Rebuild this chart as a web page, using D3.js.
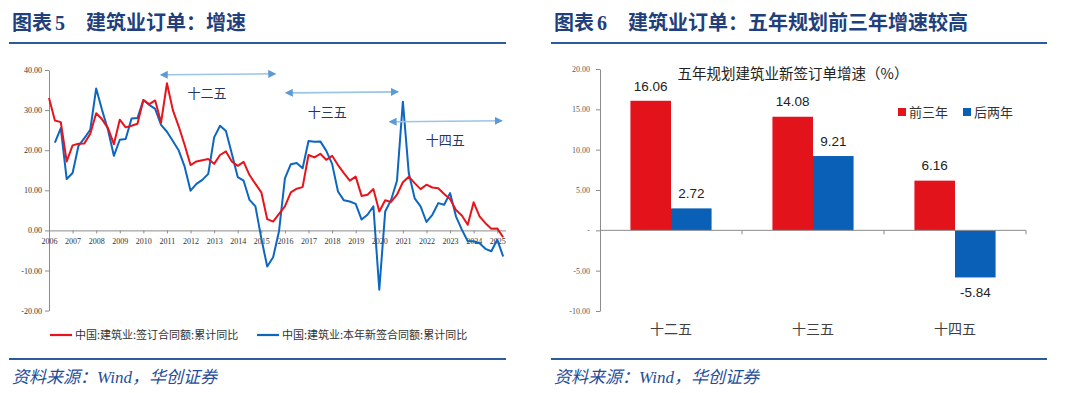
<!DOCTYPE html>
<html>
<head>
<meta charset="utf-8">
<script src="https://cdn.jsdelivr.net/npm/d3@7"></script>
<style>
  body { margin: 0; background: #fff; }
  svg { display: block; }
</style>
</head>
<body>
<svg id="chart" width="1080" height="393"></svg>
<script>
// ---- left chart data: quarterly cumulative yoy (%) from 2006Q1 to 2025Q2
const startYear = 2006;
const yearTicks = d3.range(2006, 2026);
const signedYoy = [
  33.0, 27.4, 27.0, 17.2,
  21.2, 21.6, 21.7, 24.1,
  29.2, 27.7, 25.5, 21.5,
  27.6, 25.7, 26.1, 26.6,
  32.5, 31.5, 32.4, 26.9,
  36.7, 30.0, 25.9, 21.3,
  16.3, 17.2, 17.5, 17.8,
  16.6, 18.8, 19.7, 17.2,
  16.1, 17.1, 13.8, 11.6,
  9.5, 2.8, 2.2, 4.1,
  6.0, 9.5, 10.4, 10.8,
  18.8, 18.2, 19.1, 17.6,
  18.6, 16.3, 14.3, 12.4,
  13.4, 8.6, 8.9, 10.3,
  4.7, 7.5, 7.1, 8.9,
  12.0, 13.4, 11.8, 10.3,
  11.4, 10.7, 10.5, 9.1,
  7.8, 5.1, 3.7, 1.4,
  7.0, 3.5, 1.8, 0.4,
  0.5, -1.7
];
const newSignedYoy = [
  null, 21.9, 25.5, 12.8,
  14.3, 21.1, 23.0, 25.1,
  35.4, 30.0, 25.1, 18.6,
  22.6, 22.8, 27.9, 28.0,
  32.5, 31.3, 30.3, 26.3,
  24.6, 22.3, 19.9, 15.9,
  9.9, 11.6, 12.6, 14.1,
  23.2, 26.1, 24.8, 19.1,
  13.3, 12.4, 7.6, 6.0,
  -2.0, -9.0, -6.7, -0.2,
  13.0, 16.5, 16.8, 15.5,
  22.3, 22.1, 22.2, 19.9,
  16.6, 9.7, 7.5, 7.2,
  6.6, 2.7, 3.9, 6.0,
  -14.8, 4.7, 7.6, 12.4,
  32.1, 14.3, 8.0, 6.0,
  2.1, 3.9, 6.8, 6.4,
  9.3, 3.5, 0.2, -2.7,
  -2.7, -3.2, -4.6, -5.2,
  -2.3, -6.5
];
const leftYTicks = [-20, -10, 0, 10, 20, 30, 40];
const seriesNames = ["中国:建筑业:签订合同额:累计同比", "中国:建筑业:本年新签合同额:累计同比"];
// five-year plan periods (arrow from/to in years, arrow level and label spot in %)
const plans = [
  { name: "十二五", from: 2011.0, to: 2015.6, level: 38.8, labelYear: 2012.7, labelValue: 34.2 },
  { name: "十三五", from: 2016.3, to: 2020.8, level: 34.3, labelYear: 2017.8, labelValue: 29.5 },
  { name: "十四五", from: 2020.7, to: 2025.2, level: 27.1, labelYear: 2022.8, labelValue: 22.5 }
];

// ---- right chart data
const planCats = ["十二五", "十三五", "十四五"];
const firstThree = [16.06, 14.08, 6.16];
const lastTwo = [2.72, 9.21, -5.84];
const barSeries = ["前三年", "后两年"];
const rightYTicks = [-10, -5, 0, 5, 10, 15, 20];

const RED = "#e8141c", BLUE = "#0d66bf";
const BAR_RED = "#e3131c", BAR_BLUE = "#0a5fb6";
const NAVY = "#213f7c";
const CJK = "'Noto Sans CJK SC', sans-serif";
const SERIF = "'Liberation Serif', 'Noto Sans CJK SC', serif";

// fixed 2 decimals with a plain hyphen for negatives
const fmt2 = v => d3.format(".2f")(v).replace("\u2212", "-");

const svg = d3.select("#chart");

// ---------- frame: titles, rules, sources ----------
function frame(x0, x1, num, title) {
    const t = svg.append("text")
        .attr("x", x0 + 3).attr("y", 30)
        .attr("fill", NAVY)
        .style("font-family", SERIF)
        .style("font-weight", "bold")
        .style("font-size", "20px");
    t.append("tspan").text("图表");
    t.append("tspan").attr("dx", 3).text(num);
    t.append("tspan").attr("x", x0 + 77).text(title);

    svg.append("line").attr("x1", x0).attr("x2", x1).attr("y1", 43).attr("y2", 43)
        .attr("stroke", "#2d5a9a").attr("stroke-width", 2);
    svg.append("line").attr("x1", x0).attr("x2", x1).attr("y1", 359).attr("y2", 359)
        .attr("stroke", "#2d5a9a").attr("stroke-width", 2);

    svg.append("text")
        .attr("x", x0 + 3).attr("y", 383)
        .attr("fill", "#1f4d99")
        .style("font-family", SERIF)
        .style("font-style", "italic")
        .style("font-size", "17px")
        .text("资料来源：Wind，华创证券");
}
frame(9, 506, "5", "建筑业订单：增速");
frame(551, 1047, "6", "建筑业订单：五年规划前三年增速较高");

// ---------- left: line chart ----------
const periods = signedYoy.map((v, i) => startYear + i / 4);

const xL = d3.scaleLinear().domain([2006, 2025.35]).range([49, 505.5]);
const yL = d3.scaleLinear().domain([-20, 40]).range([310.6, 70]);

const gL = svg.append("g");

const yAxisL = gL.append("g")
    .attr("transform", `translate(${xL(2006)},0)`)
    .call(d3.axisLeft(yL).tickValues(leftYTicks).tickFormat(fmt2).tickSize(4).tickSizeOuter(0).tickPadding(3));
yAxisL.select(".domain").attr("stroke", "#8c8c8c");
yAxisL.selectAll(".tick line").attr("stroke", "#8c8c8c");
yAxisL.selectAll("text").attr("fill", "#333").style("font-family", SERIF).style("font-size", "8px");

const xAxisL = gL.append("g")
    .attr("transform", `translate(0,${yL(0)})`)
    .call(d3.axisBottom(xL).tickValues(yearTicks).tickFormat(d => d).tickSize(3).tickSizeOuter(0).tickPadding(5));
xAxisL.select(".domain").attr("stroke", "#8c8c8c");
xAxisL.selectAll(".tick line").attr("stroke", "#8c8c8c");
xAxisL.selectAll("text").attr("fill", "#333").style("font-family", SERIF).style("font-size", "8px");

const line = d3.line()
    .defined(d => d[1] != null)
    .x(d => xL(d[0]))
    .y(d => yL(d[1]));

gL.append("path")
    .datum(periods.map((p, i) => [p, newSignedYoy[i]]))
    .attr("fill", "none").attr("stroke", BLUE).attr("stroke-width", 2).attr("stroke-linejoin", "round")
    .attr("d", line);
gL.append("path")
    .datum(periods.map((p, i) => [p, signedYoy[i]]))
    .attr("fill", "none").attr("stroke", RED).attr("stroke-width", 2).attr("stroke-linejoin", "round")
    .attr("d", line);

// arrows for five-year plans
const defs = svg.append("defs");
["start", "end"].forEach(k => {
    defs.append("marker")
        .attr("id", "arrow-" + k)
        .attr("viewBox", "0 0 10 10")
        .attr("refX", k === "end" ? 9 : 1).attr("refY", 5)
        .attr("markerWidth", 5).attr("markerHeight", 5)
        .attr("markerUnits", "strokeWidth")
        .attr("orient", "auto-start-reverse")
        .append("path")
        .attr("d", "M0,0 L10,5 L0,10 Z")
        .attr("fill", "#5b9bd5");
});

gL.selectAll(".plan-arrow")
    .data(plans)
    .enter()
    .append("line")
    .attr("class", "plan-arrow")
    .attr("x1", d => xL(d.from)).attr("x2", d => xL(d.to))
    .attr("y1", d => yL(d.level)).attr("y2", d => yL(d.level) - 1)
    .attr("stroke", "#9cc3e8").attr("stroke-width", 1.6)
    .attr("marker-start", "url(#arrow-start)")
    .attr("marker-end", "url(#arrow-end)");

gL.selectAll(".plan-label")
    .data(plans)
    .enter()
    .append("text")
    .attr("class", "plan-label")
    .attr("x", d => xL(d.labelYear)).attr("y", d => yL(d.labelValue))
    .attr("dy", "0.35em")
    .attr("text-anchor", "middle")
    .attr("fill", "#1f3864")
    .style("font-family", CJK)
    .style("font-size", "13px")
    .text(d => d.name);

// legend
const legL = gL.append("g").attr("transform", "translate(50,335)");
[[0, RED], [207, BLUE]].forEach(([dx, c], i) => {
    legL.append("line").attr("x1", dx).attr("x2", dx + 22).attr("y1", 0).attr("y2", 0)
        .attr("stroke", c).attr("stroke-width", 2.2);
    legL.append("text").attr("x", dx + 25).attr("y", 0).attr("dy", "0.35em")
        .attr("fill", "#333").style("font-family", CJK).style("font-size", "11px")
        .text(seriesNames[i]);
});

// ---------- right: bar chart ----------
const x0 = d3.scaleBand().domain(planCats).range([600, 1026]).paddingInner(0).paddingOuter(0);
const x1 = d3.scaleBand().domain(barSeries).range([0, x0.bandwidth()]).paddingInner(0).paddingOuter(0.75);
const yR = d3.scaleLinear().domain([-10, 20]).range([311, 69]);

const gR = svg.append("g");

const yAxisR = gR.append("g")
    .attr("transform", "translate(600,0)")
    .call(d3.axisLeft(yR).tickValues(rightYTicks)
        .tickFormat(d => d === 0 ? "-" : fmt2(d))
        .tickSize(4).tickSizeOuter(0).tickPadding(6));
yAxisR.select(".domain").attr("stroke", "#8c8c8c");
yAxisR.selectAll(".tick line").attr("stroke", "#8c8c8c");
yAxisR.selectAll("text").attr("fill", "#595959").style("font-family", SERIF).style("font-size", "8px");

const barData = planCats.map((c, i) => ({ cat: c, values: [firstThree[i], lastTwo[i]] }));
const groups = gR.selectAll(".grp")
    .data(barData)
    .enter()
    .append("g")
    .attr("class", "grp")
    .attr("transform", d => `translate(${x0(d.cat)},0)`);

groups.selectAll("rect")
    .data(d => d.values.map((v, j) => ({ key: barSeries[j], v })))
    .enter()
    .append("rect")
    .attr("x", d => x1(d.key))
    .attr("y", d => yR(Math.max(0, d.v)))
    .attr("width", x1.bandwidth())
    .attr("height", d => Math.abs(yR(d.v) - yR(0)))
    .attr("fill", d => d.key === barSeries[0] ? BAR_RED : BAR_BLUE);

groups.selectAll(".val")
    .data(d => d.values.map((v, j) => ({ key: barSeries[j], v })))
    .enter()
    .append("text")
    .attr("class", "val")
    .attr("x", d => x1(d.key) + x1.bandwidth() / 2)
    .attr("y", d => d.v >= 0 ? yR(d.v) - 15 : yR(d.v) + 15)
    .attr("dy", "0.35em")
    .attr("text-anchor", "middle")
    .attr("fill", "#222")
    .style("font-family", "'Liberation Sans', sans-serif")
    .style("font-size", "13.5px")
    .text(d => fmt2(d.v));

// x axis (category boundaries)
gR.append("line").attr("x1", 600).attr("x2", 1026).attr("y1", yR(0)).attr("y2", yR(0))
    .attr("stroke", "#8c8c8c");
gR.selectAll(".xtick")
    .data(planCats)
    .enter()
    .append("line")
    .attr("x1", d => x0(d) + x0.bandwidth()).attr("x2", d => x0(d) + x0.bandwidth())
    .attr("y1", yR(0)).attr("y2", yR(0) + 4)
    .attr("stroke", "#8c8c8c");

gR.selectAll(".cat")
    .data(planCats)
    .enter()
    .append("text")
    .attr("x", d => x0(d) + x0.bandwidth() / 2)
    .attr("y", 329).attr("dy", "0.35em")
    .attr("text-anchor", "middle")
    .attr("fill", "#404040")
    .style("font-family", CJK)
    .style("font-size", "14px")
    .text(d => d);

gR.append("text")
    .attr("x", 793).attr("y", 74).attr("dy", "0.35em")
    .attr("text-anchor", "middle")
    .attr("fill", "#222")
    .style("font-family", CJK)
    .style("font-size", "14.5px")
    .text("五年规划建筑业新签订单增速（%）");

// legend
const legR = gR.append("g").attr("transform", "translate(898,112)");
barSeries.forEach((s, i) => {
    legR.append("rect").attr("x", i * 65).attr("y", -4).attr("width", 8).attr("height", 8)
        .attr("fill", i === 0 ? BAR_RED : BAR_BLUE);
    legR.append("text").attr("x", i * 65 + 11).attr("y", 0).attr("dy", "0.35em")
        .attr("fill", "#333").style("font-family", CJK).style("font-size", "13px")
        .text(s);
});
</script>
</body>
</html>
